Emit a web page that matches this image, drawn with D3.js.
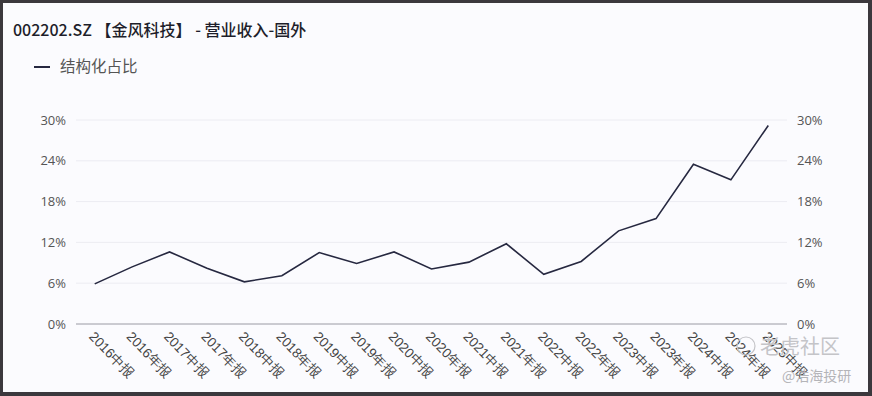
<!DOCTYPE html>
<html>
<head>
<meta charset="utf-8">
<script src="https://cdn.jsdelivr.net/npm/d3@7"></script>
<style>
  html, body { margin: 0; padding: 0; background: #4a4a4e; }
  svg { display: block; font-family: "Noto Sans CJK SC", "Noto Sans", sans-serif; }
</style>
</head>
<body>
<svg id="fig" width="872" height="396"></svg>
<script>
const categories = ["2016中报", "2016年报", "2017中报", "2017年报", "2018中报", "2018年报",
  "2019中报", "2019年报", "2020中报", "2020年报", "2021中报", "2021年报", "2022中报",
  "2022年报", "2023中报", "2023年报", "2024中报", "2024年报", "2025中报"];
const ratio = [5.9, 8.4, 10.6, 8.2, 6.2, 7.1, 10.5, 8.9, 10.6, 8.1, 9.1, 11.8, 7.3,
  9.2, 13.7, 15.5, 23.5, 21.2, 29.2];
const yTicks = [0, 6, 12, 18, 24, 30];

const Fig = d3.select("#fig");

// frame + background
Fig.append("rect").attr("width", 872).attr("height", 396).attr("fill", "#3b383d");
Fig.append("rect").attr("x", 3).attr("y", 3).attr("width", 865).attr("height", 389).attr("fill", "#fbfbfe");

const plotLeft = 76, plotRight = 787, plotTop = 120, plotBottom = 324;

const xScale = d3.scaleBand().domain(categories).range([plotLeft, plotRight]);
const yScale = d3.scaleLinear().domain([0, 30]).range([plotBottom, plotTop]);

// grid
Fig.append("g").selectAll("line")
  .data(yTicks.filter(d => d > 0))
  .join("line")
  .attr("x1", plotLeft).attr("x2", plotRight)
  .attr("y1", d => yScale(d)).attr("y2", d => yScale(d))
  .attr("stroke", "#ececf2").attr("stroke-width", 1);

// base line
Fig.append("line")
  .attr("x1", plotLeft).attr("x2", plotRight)
  .attr("y1", plotBottom).attr("y2", plotBottom)
  .attr("stroke", "#9a9aa4").attr("stroke-width", 1);

// y axes (labels only)
const fmt = d => d + "%";
const yLeft = d3.axisLeft(yScale).tickValues(yTicks).tickFormat(fmt).tickSize(0).tickPadding(10);
const yRight = d3.axisRight(yScale).tickValues(yTicks).tickFormat(fmt).tickSize(0).tickPadding(10);

[Fig.append("g").attr("transform", `translate(${plotLeft},0)`).call(yLeft),
 Fig.append("g").attr("transform", `translate(${plotRight},0)`).call(yRight)].forEach(g => {
  g.select(".domain").remove();
  g.selectAll("text").attr("fill", "#555").style("font-size", "13px").style("font-family", "'Open Sans', sans-serif");
});

// x axis labels
const xAxis = d3.axisBottom(xScale).tickSize(0).tickPadding(0);
const gx = Fig.append("g").attr("transform", `translate(0,${plotBottom})`).call(xAxis);
gx.select(".domain").remove();
gx.selectAll("text")
  .attr("text-anchor", "start")
  .attr("dy", "0.35em")
  .attr("transform", "translate(-3,10) rotate(46)")
  .attr("fill", "#444")
  .style("font-size", "13.5px");

// line
const line = d3.line()
  .x((d, i) => xScale(categories[i]) + xScale.bandwidth() / 2)
  .y(d => yScale(d));

Fig.append("path")
  .datum(ratio)
  .attr("d", line)
  .attr("fill", "none")
  .attr("stroke", "#262840")
  .attr("stroke-width", 1.6)
  .attr("stroke-linejoin", "miter");

// title
Fig.append("text")
  .attr("x", 13).attr("y", 36)
  .style("font-size", "16px")
  .style("font-weight", "500")
  .attr("fill", "#1e1e2a")
  .text("002202.SZ 【金风科技】 - 营业收入-国外");

// legend
Fig.append("line")
  .attr("x1", 34).attr("x2", 50).attr("y1", 67).attr("y2", 67)
  .attr("stroke", "#262840").attr("stroke-width", 2);
Fig.append("text")
  .attr("x", 60).attr("y", 72)
  .style("font-size", "15.5px")
  .attr("fill", "#555")
  .text("结构化占比");

// watermark
Fig.append("circle").attr("cx", 746).attr("cy", 346).attr("r", 9)
  .attr("fill", "none").attr("stroke", "#c4c4c8").attr("stroke-width", 1.2);
Fig.append("text").attr("x", 760).attr("y", 354)
  .style("font-size", "20px").attr("fill", "#c4c4c8").text("老虎社区");
Fig.append("text").attr("x", 782).attr("y", 381)
  .style("font-size", "14px").attr("fill", "#b4b4b8").text("@浩海投研");
</script>
</body>
</html>
